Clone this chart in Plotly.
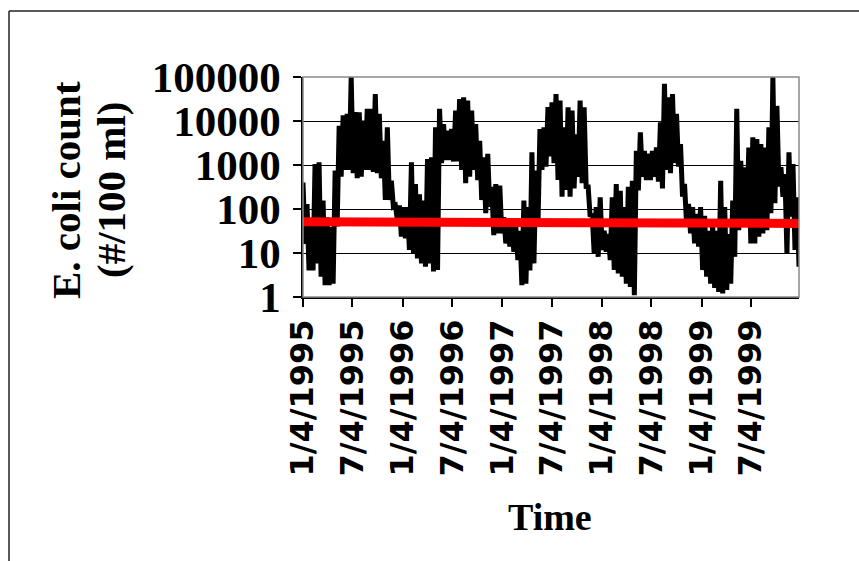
import pandas as pd
import plotly.graph_objects as go

# Sampling window of the monitoring record
start_date = "1995-01-04"
end_date = "1999-12-27"

# E. coli counts (#/100 ml), alternating peak / trough readings through the record
ecoli_count = [
    # 1995
    400, 16, 130, 4.0, 55, 4.0, 1050, 5.8, 1150, 2.9, 155, 1.85, 65, 1.85, 39, 2.0,
    750, 40, 7800, 540, 13500, 770, 14500, 770, 100000, 650, 16000, 500, 15700, 540,
    10200, 770, 19000, 770, 19000, 700, 41000, 650, 14500, 500, 3550, 160, 7200, 160,
    440, 113, 120, 56,
    # 1996
    120, 23.5, 110, 21.5, 110, 11.7, 1150, 9.8, 370, 7.5, 215, 5.8, 155, 4.9, 1370, 5.8,
    1500, 3.8, 7200, 4.1, 19000, 1100, 8500, 1300, 6000, 1300, 6600, 1200, 17200, 1200,
    31500, 770, 34500, 385, 29000, 540, 17200, 770, 8500, 455, 3550, 160, 1500, 80,
    1800, 113, 320, 25.5, 370, 28,
    # 1997
    340, 28, 65, 16.5, 55, 14, 46, 10.7, 39, 6.9, 32, 1.85, 155, 2.0, 110, 4.0,
    1950, 5.8, 750, 40, 6600, 770, 7200, 920, 20600, 1560, 26500, 1100, 41000, 455,
    29000, 190, 7200, 270, 20600, 190, 17200, 295, 5000, 540, 29000, 385, 20600, 325,
    320, 67, 77, 9.8, 110, 8.2,
    # 1998
    185, 11.7, 32, 10.7, 27, 6.9, 185, 4.1, 370, 3.45, 260, 2.9, 110, 2.0, 320, 1.7,
    440, 1.1, 2100, 265, 5500, 540, 2100, 455, 1800, 455, 2100, 540, 2500, 420,
    9300, 295, 70000, 770, 34500, 650, 41000, 1100, 14500, 920, 3000, 190, 370, 47,
    130, 28, 110, 16.5, 77, 14,
    # 1999
    110, 4.1, 70, 2.9, 32, 2.0, 46, 1.6, 32, 1.3, 440, 1.2, 110, 1.45, 27, 2.0,
    155, 8.2, 19000, 33, 1250, 40, 890, 47, 2500, 16.5, 4250, 16.5, 3900, 23.5,
    3000, 28, 2500, 33, 7200, 80, 100000, 135, 22000, 325, 890, 190, 620, 9.8,
    1950, 67, 1050, 11.7, 185, 4.9,
]
sample_dates = pd.date_range(start_date, end_date, periods=len(ecoli_count))

# Guideline level across the record
guideline_dates = [start_date, end_date]
guideline_values = [51, 47]

# Axis ticks
x_tick_dates = ["1995-01-04", "1995-07-04", "1996-01-04", "1996-07-04", "1997-01-04",
                "1997-07-04", "1998-01-04", "1998-07-04", "1999-01-04", "1999-07-04"]
x_tick_labels = ["1/4/1995", "7/4/1995", "1/4/1996", "7/4/1996", "1/4/1997",
                 "7/4/1997", "1/4/1998", "7/4/1998", "1/4/1999", "7/4/1999"]
y_tick_values = [1, 10, 100, 1000, 10000, 100000]
y_tick_labels = ["1", "10", "100", "1000", "10000", "100000"]
y_title_lines = ["E. coli count", "(#/100 ml)"]

W, H = 859, 561
ML, MR, MT, MB = 303, 60, 77, 264
PW, PH = W - ML - MR, H - MT - MB


def px_x(px):
    return (px - ML) / PW


def px_y(py):
    return (H - MB - py) / PH


SERIF = "Liberation Serif, Times New Roman, serif"
SANS = "DejaVu Sans, Verdana, sans-serif"

fig = go.Figure()
fig.add_trace(go.Scatter(
    x=sample_dates, y=ecoli_count, mode="lines",
    line=dict(color="black", width=5), showlegend=False, hoverinfo="skip",
))
fig.add_trace(go.Scatter(
    x=guideline_dates, y=guideline_values, mode="lines",
    line=dict(color="#ff0000", width=9), showlegend=False, hoverinfo="skip",
))

annotations = [
    dict(text=line, textangle=-90, xref="paper", yref="paper",
         x=px_x(cx), y=px_y(190), xanchor="center", yanchor="middle", showarrow=False,
         font=dict(family=SERIF, size=41, color="black", weight="bold"))
    for line, cx in zip(y_title_lines, [66, 111])
]
annotations.append(
    dict(text="Time", xref="paper", yref="paper", x=px_x(550), y=px_y(517),
         xanchor="center", yanchor="middle", showarrow=False,
         font=dict(family=SERIF, size=38, color="black", weight="bold"))
)

fig.update_layout(
    width=W, height=H,
    margin=dict(l=ML, r=MR, t=MT, b=MB, autoexpand=False),
    paper_bgcolor="white", plot_bgcolor="white",
    xaxis=dict(
        type="date", range=[start_date, end_date],
        tickvals=x_tick_dates, ticktext=x_tick_labels, tickangle=-90,
        tickfont=dict(family=SANS, size=32, color="black", weight="bold"),
        ticks="outside", ticklen=8, tickcolor="black", tickwidth=1.5,
        showline=True, linecolor="black", linewidth=1.5,
        showgrid=False, zeroline=False, automargin=False,
    ),
    yaxis=dict(
        type="log", range=[0, 5],
        tickvals=y_tick_values, ticktext=y_tick_labels,
        tickfont=dict(family=SERIF, size=43, color="black", weight="bold"),
        ticks="outside", ticklen=8, tickcolor="black", tickwidth=1.5,
        ticklabelstandoff=4,
        showline=True, linecolor="black", linewidth=1.5,
        showgrid=True, gridcolor="black", gridwidth=1,
        zeroline=False, automargin=False,
    ),
    shapes=[
        # plot frame
        dict(type="rect", xref="paper", yref="paper", x0=0, x1=1, y0=0, y1=1,
             line=dict(color="#8a8a8a", width=1.5), layer="above"),
        # outer border
        dict(type="line", xref="paper", yref="paper",
             x0=px_x(9), x1=px_x(W + 2), y0=px_y(11), y1=px_y(11),
             line=dict(color="#222222", width=1.5)),
        dict(type="line", xref="paper", yref="paper",
             x0=px_x(9), x1=px_x(9), y0=px_y(11), y1=px_y(H + 2),
             line=dict(color="#222222", width=1.5)),
    ],
    annotations=annotations,
)

fig.write_html("out.html")
